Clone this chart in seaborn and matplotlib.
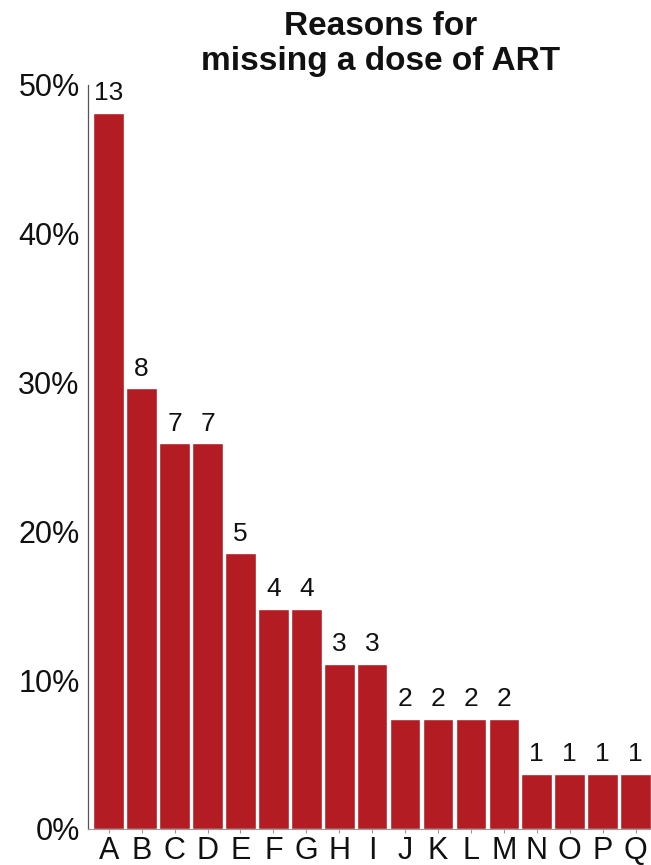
import matplotlib
matplotlib.use("Agg")
import matplotlib.pyplot as plt
import seaborn as sns

# data
reasons = list("ABCDEFGHIJKLMNOPQ")
counts = [13, 8, 7, 7, 5, 4, 4, 3, 3, 2, 2, 2, 2, 1, 1, 1, 1]
total = 27
pct = [c / total for c in counts]
ytick_vals = [0, 0.1, 0.2, 0.3, 0.4, 0.5]
ytick_labels = ["0%", "10%", "20%", "30%", "40%", "50%"]

sns.set_style("white")
plt.rcParams["font.family"] = ["Liberation Sans", "DejaVu Sans"]

fig = plt.figure(figsize=(6.51, 8.65), dpi=100)
ax = fig.add_axes([88 / 651, 1 - 829 / 865, 1 - 88 / 651, (829 - 85) / 865])

sns.barplot(x=reasons, y=pct, color="#B31C22", saturation=1, width=0.93, ax=ax)

# count labels above bars
for i, (c, p) in enumerate(zip(counts, pct)):
    ax.text(i, p + 0.005, str(c), ha="center", va="bottom", fontsize=19, color="#111111")

ax.set_xlim(-0.63, 16.47)
ax.set_ylim(0, 0.5)
ax.set_yticks(ytick_vals)
ax.set_yticklabels(ytick_labels, fontsize=22)
ax.tick_params(axis="y", length=2, color="#999999", labelcolor="#111111", pad=4)
ax.tick_params(axis="x", labelsize=22, length=3, color="#999999", labelcolor="#111111", pad=2, bottom=True)

for s in ["top", "right"]:
    ax.spines[s].set_visible(False)
ax.spines["left"].set_color("#555555")
ax.spines["left"].set_linewidth(0.9)
ax.spines["bottom"].set_color("#999999")
ax.spines["bottom"].set_linewidth(0.8)

fig.text(381 / 651, 1 - 11 / 865, "Reasons for\nmissing a dose of ART", ha="center", va="top",
         fontsize=24, fontweight="bold", linespacing=1.15, color="#111111")

fig.savefig("out.png", dpi=100)
